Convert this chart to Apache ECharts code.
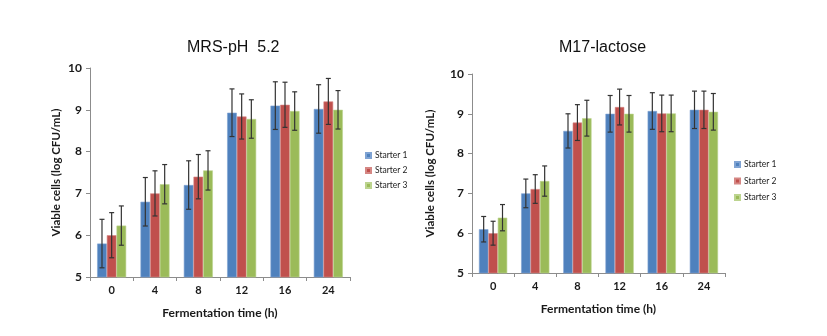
<!DOCTYPE html>
<html><head><meta charset="utf-8">
<script src="https://cdn.jsdelivr.net/npm/echarts@6/dist/echarts.min.js"></script>
<style>html,body{margin:0;padding:0;background:#fff}#c{width:827px;height:336px}</style>
</head><body><div id="c"></div>
<script>
const categories = ['0','4','8','12','16','24'];
const seriesNames = ['Starter 1','Starter 2','Starter 3'];
const titles = ['MRS-pH  5.2','M17-lactose'];
const yTicks = [5,6,7,8,9,10];
// MRS-pH 5.2
const mrsS1 = [5.80, 6.80, 7.20, 8.93, 9.10, 9.02];
const mrsS2 = [6.00, 7.00, 7.40, 8.84, 9.12, 9.20];
const mrsS3 = [6.23, 7.22, 7.55, 8.78, 8.97, 9.00];
const mrsE1 = [0.58, 0.58, 0.58, 0.57, 0.57, 0.58];
const mrsE2 = [0.54, 0.54, 0.53, 0.54, 0.54, 0.55];
const mrsE3 = [0.47, 0.47, 0.47, 0.46, 0.46, 0.46];
// M17-lactose
const m17S1 = [6.10, 7.00, 8.57, 9.00, 9.07, 9.10];
const m17S2 = [6.00, 7.11, 8.78, 9.17, 9.01, 9.10];
const m17S3 = [6.39, 7.31, 8.89, 9.00, 9.01, 9.05];
const m17E1 = [0.32, 0.36, 0.43, 0.46, 0.46, 0.47];
const m17E2 = [0.30, 0.36, 0.45, 0.45, 0.46, 0.47];
const m17E3 = [0.33, 0.38, 0.45, 0.46, 0.46, 0.46];

const colors = ['#4F81BD','#C0504D','#9BBB59'];
const edge = ['#7FA3D3','#D58784','#BCD48F'];
const LABF = 'Lato, "Open Sans", sans-serif';
const CAT_GAP = 0.33;

const chart = echarts.init(document.getElementById('c'), null, {renderer:'canvas'});

function axesFor(i, g) {
  const x = {
    type:'category', gridIndex:i, data:categories,
    name:'Fermentation time (h)', nameLocation:'middle', nameGap: g.xNameGap,
    nameTextStyle:{fontFamily:LABF, fontWeight:'bold', fontSize:12, color:'#1a1a1a'},
    axisLine:{lineStyle:{color:'#8c8c8c', width:1}},
    axisTick:{show:true, length:4, lineStyle:{color:'#8c8c8c'}},
    axisLabel:{fontFamily:LABF, fontWeight:'bold', fontSize:11, color:'#1a1a1a', margin:8},
    splitLine:{show:false}
  };
  const y = {
    type:'value', gridIndex:i, min:yTicks[0], max:yTicks[yTicks.length-1], interval:1,
    name:'Viable cells (log CFU/mL)', nameLocation:'middle', nameGap: g.yNameGap, nameRotate:90,
    nameTextStyle:{fontFamily:LABF, fontWeight:'bold', fontSize:11.5, color:'#1a1a1a'},
    axisLine:{show:true, lineStyle:{color:'#8c8c8c', width:1}},
    axisTick:{show:true, length:4, lineStyle:{color:'#8c8c8c'}},
    axisLabel:{fontFamily:LABF, fontWeight:'bold', fontSize:12, color:'#1a1a1a', margin:8},
    splitLine:{show:false}
  };
  return [x, y];
}

const grids = [
  {left:90, top:68, width:260, height:209, xNameGap:30, yNameGap:28},
  {left:472, top:74, width:253, height:199, xNameGap:30, yNameGap:36}
];
const dataSets = [
  {vals:[mrsS1,mrsS2,mrsS3], errs:[mrsE1,mrsE2,mrsE3]},
  {vals:[m17S1,m17S2,m17S3], errs:[m17E1,m17E2,m17E3]}
];

const xAxes = [], yAxes = [], series = [];
grids.forEach((g, gi) => {
  const [x, y] = axesFor(gi, g);
  xAxes.push(x); yAxes.push(y);
  const ds = dataSets[gi];
  seriesNames.forEach((name, si) => {
    series.push({
      type:'bar', name, xAxisIndex:gi, yAxisIndex:gi,
      data: ds.vals[si],
      barGap:'0%', barCategoryGap:(CAT_GAP*100)+'%',
      itemStyle:{color:colors[si], borderColor:edge[si], borderWidth:0.6},
      emphasis:{disabled:true}, z:2
    });
  });
  seriesNames.forEach((name, si) => {
    series.push({
      type:'custom', name, xAxisIndex:gi, yAxisIndex:gi, z:5,
      encode:{x:0, y:1},
      data: ds.vals[si].map((v, k) => [k, v, ds.errs[si][k]]),
      renderItem: function(params, api) {
        const k = api.value(0), v = api.value(1), e = api.value(2);
        const band = api.size([1,0])[0];
        const bw = band * (1 - CAT_GAP) / 3;
        const c = api.coord([k, v]);
        const cx = c[0] + (si - 1) * bw;
        const top = api.coord([k, v + e])[1];
        const bot = api.coord([k, v - e])[1];
        const cap = 2.5;
        const st = {stroke:'#333', lineWidth:1.2};
        return {type:'group', children:[
          {type:'line', shape:{x1:cx, y1:top, x2:cx, y2:bot}, style:st},
          {type:'line', shape:{x1:cx-cap, y1:top, x2:cx+cap, y2:top}, style:st},
          {type:'line', shape:{x1:cx-cap, y1:bot, x2:cx+cap, y2:bot}, style:st}
        ]};
      },
      silent:true
    });
  });
});

chart.setOption({
  animation:false,
  color:colors,
  title:[
    {text:titles[0], left:187, top:40, padding:0, textStyle:{fontFamily:'"Liberation Sans", Arial, sans-serif', fontWeight:'normal', fontSize:16, color:'#111'}},
    {text:titles[1], left:559, top:40, padding:0, textStyle:{fontFamily:'"Liberation Sans", Arial, sans-serif', fontWeight:'normal', fontSize:16, color:'#111'}}
  ],
  grid: grids.map(g => ({left:g.left, top:g.top, width:g.width, height:g.height, containLabel:false})),
  xAxis:xAxes, yAxis:yAxes,
  legend:[
    {data:seriesNames.map(n=>({name:n, icon:'rect'})), orient:'vertical', left:365, top:151, padding:0, itemWidth:5, itemHeight:5, itemGap:6,
     textStyle:{fontFamily:LABF, fontSize:8.5, color:'#222', padding:[0,0,0,-1]}, selectedMode:false},
    {data:seriesNames.map(n=>({name:n, icon:'rect'})), orient:'vertical', left:734, top:160, padding:0, itemWidth:5, itemHeight:5, itemGap:7.5,
     textStyle:{fontFamily:LABF, fontSize:8.5, color:'#222', padding:[0,0,0,-1]}, selectedMode:false}
  ],
  series
});
</script></body></html>
